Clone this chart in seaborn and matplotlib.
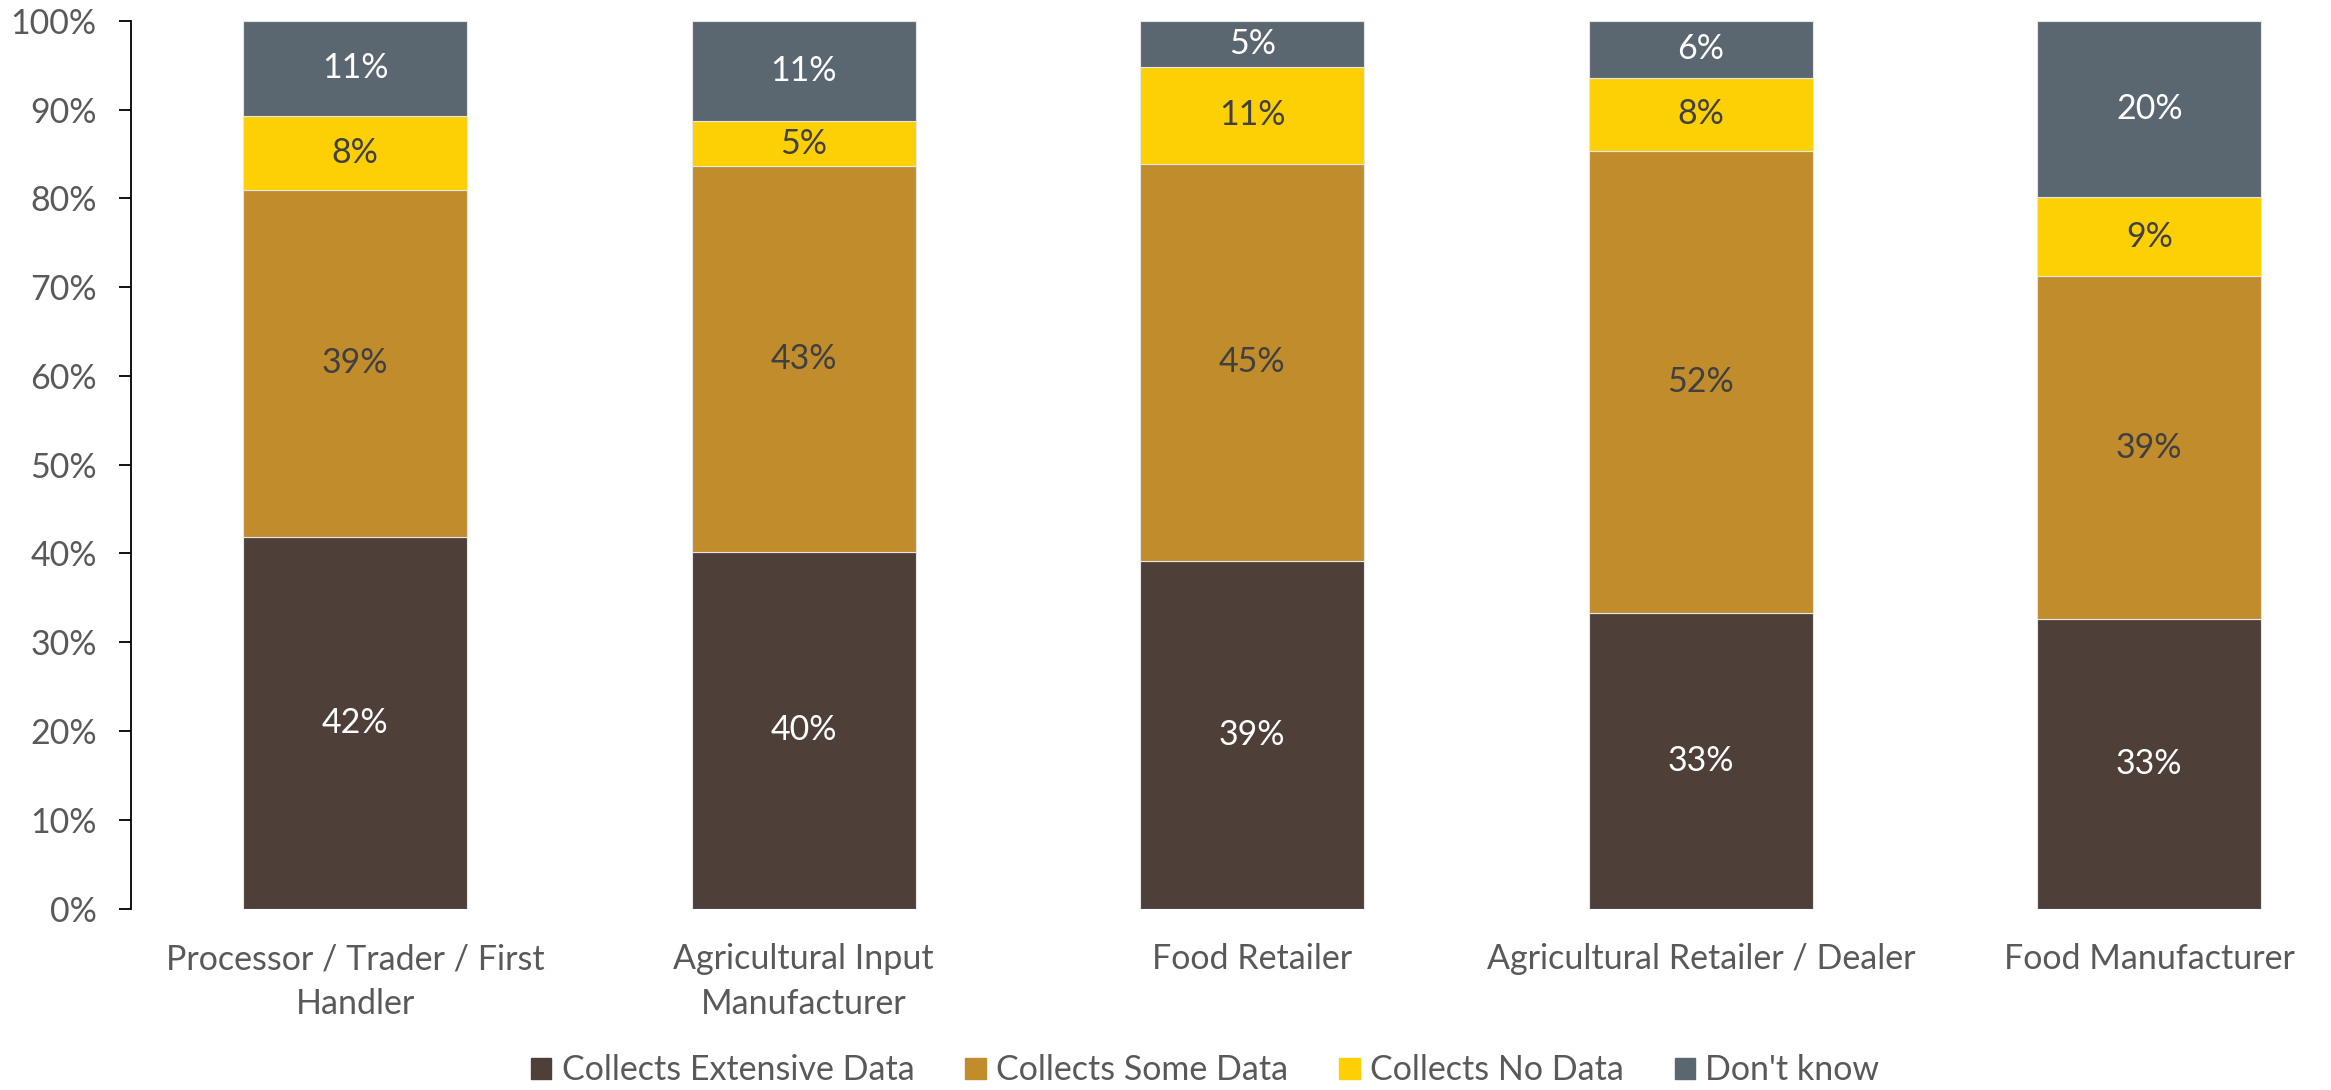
import matplotlib
matplotlib.use("Agg")
import matplotlib.pyplot as plt
import seaborn as sns
import numpy as np

categories = [
    "Processor / Trader / First\nHandler",
    "Agricultural Input\nManufacturer",
    "Food Retailer",
    "Agricultural Retailer / Dealer",
    "Food Manufacturer",
]
extensive = [41.9, 40.2, 39.2, 33.3, 32.6]
some_data = [39.0, 43.4, 44.7, 52.0, 38.6]
no_data = [8.4, 5.1, 10.9, 8.3, 9.0]
dont_know = [10.7, 11.3, 5.2, 6.4, 19.8]

series_names = ["Collects Extensive Data", "Collects Some Data", "Collects No Data", "Don't know"]
series_values = [extensive, some_data, no_data, dont_know]
series_colors = ["#4E4038", "#C08C2C", "#FDD005", "#5B6770"]
label_colors = ["white", "#404040", "#404040", "white"]

sns.set_theme(style="white")
plt.rcParams["font.family"] = ["Lato", "DejaVu Sans"]

FS = 24.5

fig = plt.figure(figsize=(23.31, 10.90), dpi=100)
ax = fig.add_axes([88 / 1568, 1 - 611 / 733, 1480 / 1568, 597 / 733])

bottom = np.zeros(len(categories))
for name, vals, col, lcol in zip(series_names, series_values, series_colors, label_colors):
    vals = np.asarray(vals, dtype=float)
    sns.barplot(x=categories, y=vals, bottom=bottom, color=col, width=0.5,
                label=name, ax=ax, edgecolor="#e6e6e6", linewidth=0.8,
                saturation=1, legend=False)
    cont = ax.containers[-1]
    ax.bar_label(cont, labels=[f"{v:.0f}%" for v in vals], label_type="center",
                 color=lcol, fontsize=FS)
    bottom += vals

ax.set_ylim(0, 100)
ax.set_xlim(-0.5, 4.405)
ax.set_yticks(np.arange(0, 101, 10))
ax.set_yticklabels([f"{t}%" for t in range(0, 101, 10)])
ax.tick_params(axis="y", which="major", left=True, length=8.6, width=1.3,
               color="black", labelsize=FS, labelcolor="#595959", pad=16)
ax.tick_params(axis="x", bottom=False, labelsize=FS, labelcolor="#595959", pad=19)
for lab in ax.get_xticklabels():
    lab.set_linespacing(1.5)

for side in ["top", "right", "bottom"]:
    ax.spines[side].set_visible(False)
ax.spines["left"].set_color("black")
ax.spines["left"].set_linewidth(1.3)
ax.set_xlabel("")
ax.set_ylabel("")
ax.grid(False)

handles = [plt.Rectangle((0, 0), 1, 1, color=c) for c in series_colors]
leg = fig.legend(handles, series_names, loc="center", bbox_to_anchor=(0.517, 0.018),
                 ncol=4, frameon=False, fontsize=FS, handlelength=0.6, handleheight=0.6,
                 handletextpad=0.3, columnspacing=1.5)
for t in leg.get_texts():
    t.set_color("#595959")

fig.savefig("out.png", dpi=100)
